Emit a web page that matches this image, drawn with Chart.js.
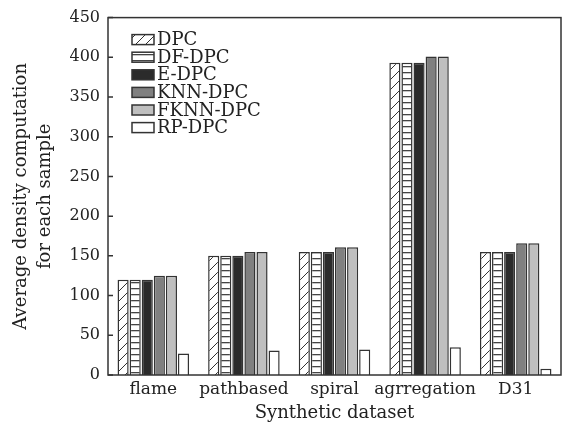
<!DOCTYPE html>
<html>
<head>
<meta charset="utf-8">
<script src="https://cdn.jsdelivr.net/npm/chart.js@4.4.1/dist/chart.umd.min.js"></script>
<style>
  html, body { margin: 0; padding: 0; background: #fff; }
  #wrap { width: 564px; height: 433px; }
</style>
</head>
<body>
<div id="wrap"><canvas id="chart"></canvas></div>
<script>
const datasetNames = ['flame', 'pathbased', 'spiral', 'agrregation', 'D31'];
const methods = ['DPC', 'DF-DPC', 'E-DPC', 'KNN-DPC', 'FKNN-DPC', 'RP-DPC'];

const dpc = [120, 150, 155, 393, 155];
const dfDpc = [120, 150, 155, 393, 155];
const eDpc = [120, 150, 155, 393, 155];
const knnDpc = [125, 155, 161, 401, 166];
const fknnDpc = [125, 155, 161, 401, 166];
const rpDpc = [27, 31, 32, 35, 8];

const yTicks = [0, 50, 100, 150, 200, 250, 300, 350, 400, 450];

const FONT = "'DejaVu Serif', 'Liberation Serif', serif";
const EDGE = '#333333';

// hatch patterns for the two striped series
function diagPattern() {
    const c = document.createElement('canvas');
    c.width = 10; c.height = 10;
    const g = c.getContext('2d');
    g.fillStyle = '#ffffff';
    g.fillRect(0, 0, 10, 10);
    g.strokeStyle = '#333';
    g.lineWidth = 1;
    g.beginPath();
    g.moveTo(0, 10); g.lineTo(10, 0);
    g.moveTo(-1, 1); g.lineTo(1, -1);
    g.moveTo(9, 11); g.lineTo(11, 9);
    g.stroke();
    return document.createElement('canvas').getContext('2d').createPattern(c, 'repeat');
}

function hLinePattern() {
    const c = document.createElement('canvas');
    c.width = 4; c.height = 6;
    const g = c.getContext('2d');
    g.fillStyle = '#ffffff';
    g.fillRect(0, 0, 4, 6);
    g.fillStyle = '#444';
    g.fillRect(0, 0, 4, 1.3);
    return document.createElement('canvas').getContext('2d').createPattern(c, 'repeat');
}

const fills = [diagPattern(), hLinePattern(), '#2b2b2b', '#808080', '#bfbfbf', '#ffffff'];
const series = [dpc, dfDpc, eDpc, knnDpc, fknnDpc, rpDpc];

// legend drawn inside the plot, top left, like the original figure
const innerLegend = {
    id: 'innerLegend',
    afterDraw(chart) {
        const ctx = chart.ctx;
        const area = chart.chartArea;
        ctx.save();
        ctx.font = '18px ' + FONT;
        ctx.textBaseline = 'middle';
        chart.data.datasets.forEach((ds, i) => {
            const x = area.left + 24;
            const y = area.top + 22 + i * 17.6;
            ctx.fillStyle = ds.backgroundColor;
            ctx.fillRect(x, y - 5, 22, 10);
            ctx.strokeStyle = EDGE;
            ctx.lineWidth = 1.5;
            ctx.strokeRect(x, y - 5, 22, 10);
            ctx.fillStyle = '#222';
            ctx.fillText(ds.label, x + 25, y + 1);
        });
        ctx.restore();
    }
};

// box around the plot and inward y ticks
const frame = {
    id: 'frame',
    afterDatasetsDraw(chart) {
        const ctx = chart.ctx;
        const a = chart.chartArea;
        const y = chart.scales.y;
        ctx.save();
        ctx.strokeStyle = '#333';
        ctx.lineWidth = 1.5;
        ctx.strokeRect(a.left, a.top, a.right - a.left, a.bottom - a.top);
        ctx.beginPath();
        yTicks.forEach(v => {
            const py = y.getPixelForValue(v);
            ctx.moveTo(a.left, py);
            ctx.lineTo(a.left + 5, py);
        });
        ctx.stroke();
        ctx.restore();
    }
};

new Chart(document.getElementById('chart'), {
    type: 'bar',
    data: {
        labels: datasetNames,
        datasets: methods.map((m, i) => ({
            label: m,
            data: series[i],
            backgroundColor: fills[i],
            borderColor: EDGE,
            borderWidth: 1.5,
            categoryPercentage: 0.8,
            barPercentage: 0.92
        }))
    },
    options: {
        responsive: true,
        maintainAspectRatio: false,
        animation: false,
        layout: { padding: { left: 0, right: 3, top: 15, bottom: 9 } },
        plugins: {
            legend: { display: false },
            tooltip: { enabled: false }
        },
        scales: {
            x: {
                grid: { display: false, drawTicks: false },
                border: { display: false },
                ticks: {
                    color: '#222',
                    font: { family: FONT, size: 17 },
                    padding: 4,
                    maxRotation: 0,
                    minRotation: 0,
                    autoSkip: false
                },
                title: {
                    display: true,
                    text: 'Synthetic dataset',
                    color: '#222',
                    font: { family: FONT, size: 18 },
                    padding: { top: 0, bottom: 0 }
                },
                afterFit(scale) { scale.height = 49; }
            },
            y: {
                min: 0,
                max: 450,
                afterBuildTicks(scale) { scale.ticks = yTicks.map(v => ({ value: v })); },
                grid: { display: false, drawTicks: false },
                border: { display: false },
                ticks: { color: '#222', font: { family: FONT, size: 16 }, padding: 8 },
                title: {
                    display: true,
                    text: ['Average density computation', 'for each sample'],
                    color: '#222',
                    font: { family: FONT, size: 18, lineHeight: 1.3 },
                    padding: { top: 10, bottom: 4 }
                },
                afterFit(scale) { scale.width = 108; }
            }
        }
    },
    plugins: [frame, innerLegend]
});
</script>
</body>
</html>
